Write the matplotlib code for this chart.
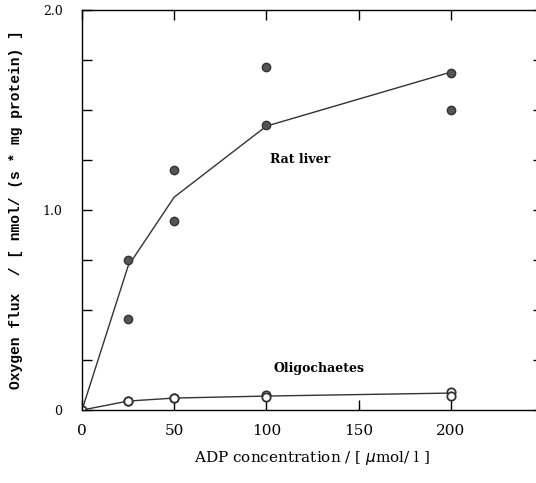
import matplotlib.pyplot as plt

# ADP concentration (umol/l) and measured oxygen flux
adp = [0, 25, 25, 50, 50, 100, 100, 200, 200]
rat_liver = [0, 0.75, 0.455, 1.2, 0.945, 1.715, 1.425, 1.685, 1.5]
oligo = [0, 0.045, 0.045, 0.06, 0.06, 0.075, 0.065, 0.09, 0.07]

# fitted curves
fit_x = [0, 25, 50, 100, 200]
rat_fit = [0, 0.72, 1.065, 1.42, 1.69]
oligo_fit = [0, 0.045, 0.06, 0.07, 0.085]

xticks = [0, 50, 100, 150, 200]
yticks = [0, 0.25, 0.5, 0.75, 1.0, 1.25, 1.5, 1.75, 2.0]

plt.rcParams['font.family'] = 'DejaVu Serif'

fig = plt.figure(figsize=(5.36, 4.83), dpi=100)
ax = fig.add_axes([0.153, 0.151, 0.86, 0.828])

ax.plot(fit_x, rat_fit, color='#333333', lw=1.0)
ax.plot(fit_x, oligo_fit, color='#333333', lw=1.0)
ax.plot(adp, rat_liver, 'o', color='#555555', mec='#333333', ms=6)
ax.plot(adp, oligo, 'o', mfc='white', mec='#333333', mew=1.3, ms=6)

ax.set_xlim(0, 250)
ax.set_ylim(0, 2.0)
ax.set_xticks(xticks)
ax.set_xticklabels([str(v) for v in xticks], fontsize=11)
ax.set_yticks(yticks)
ax.set_yticklabels(['0', '', '', '', '1.0', '', '', '', '2.0'], fontsize=9)
ax.tick_params(direction='in', top=True, right=True, length=7, width=1, pad=14)
ax.tick_params(axis='x', pad=10)

for s in ax.spines.values():
    s.set_linewidth(1.0)

ax.text(102, 1.235, 'Rat liver', fontsize=9, fontweight='bold')
ax.text(104, 0.19, 'Oligochaetes', fontsize=9, fontweight='bold')

ax.set_xlabel('ADP concentration / [ $\\mu$mol/ l ]', fontsize=11, labelpad=8)
ax.set_ylabel('Oxygen flux  / [ nmol/ (s * mg protein) ]', fontsize=10.5,
              fontweight='bold', family='Liberation Mono', labelpad=14)

fig.savefig('out.png', dpi=100)
